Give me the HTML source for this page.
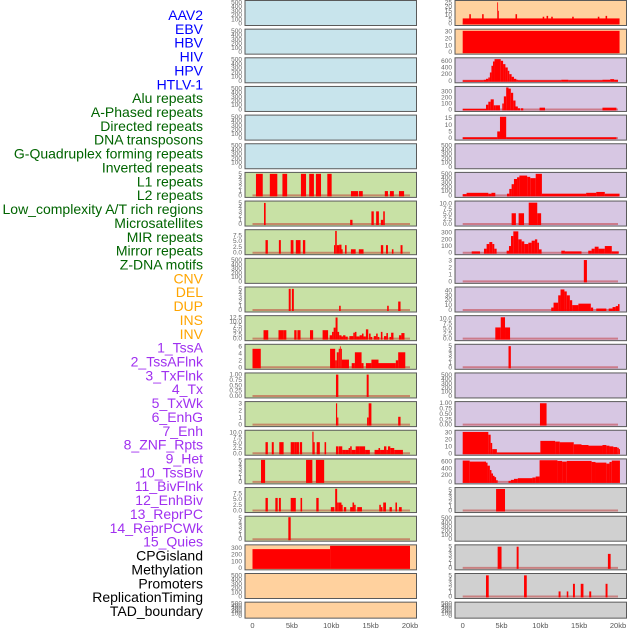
<!DOCTYPE html>
<html><head><meta charset="utf-8"><style>
html,body{margin:0;padding:0;background:#fff;width:630px;height:630px;overflow:hidden}
svg{display:block}
</style></head><body>
<svg id="chart" width="630" height="630" xmlns="http://www.w3.org/2000/svg" font-family="Liberation Sans, sans-serif"></svg>
<script>
const trackLabels=["AAV2","EBV","HBV","HIV","HPV","HTLV-1","Alu repeats","A-Phased repeats","Directed repeats","DNA transposons","G-Quadruplex forming repeats","Inverted repeats","L1 repeats","L2 repeats","Low_complexity A/T rich regions","Microsatellites","MIR repeats","Mirror repeats","Z-DNA motifs","CNV","DEL","DUP","INS","INV","1_TssA","2_TssAFlnk","3_TxFlnk","4_Tx","5_TxWk","6_EnhG","7_Enh","8_ZNF_Rpts","9_Het","10_TssBiv","11_BivFlnk","12_EnhBiv","13_ReprPC","14_ReprPCWk","15_Quies","CPGisland","Methylation","Promoters","ReplicationTiming","TAD_boundary"];
const labelColors=[].concat(Array(6).fill("#0000ff"),Array(13).fill("#006400"),Array(5).fill("#ffa500"),Array(15).fill("#a030f0"),Array(5).fill("#000000"));
const xTickValues=[0,5,10,15,20];
const xTickLabels=["0","5kb","10kb","15kb","20kb"];
const T500=[0,100,200,300,400,500];
const T5=[0,1,2,3,4,5];
// segments: [startKb, endKb, value]
const L6=[[0.44,1.3,5],[2.2,3.15,5],[3.8,4.4,5],[6.15,6.8,5],[7.2,7.8,5],[8.05,8.7,5],[9.5,10.05,5],[12.5,13.4,1],[13.5,14.0,1],[16.8,17.2,1],[17.45,17.95,1],[18.6,19.25,1]];
const L7=[[1.46,1.67,5],[12.4,12.7,1],[15.1,15.4,3],[15.7,16.05,3],[16.3,16.6,1],[16.6,16.8,3]];
const L8=[[1.65,1.95,5.5],[3.35,3.6,5.5],[4.85,5.2,5.5],[5.5,6.1,5.5],[6.4,6.7,5.5],[10.35,10.5,3.3],[10.5,10.7,9.5],[10.7,11.0,3.3],[11.0,11.3,3.5],[11.3,11.45,1.5],[11.75,11.95,3.3],[12.5,13.1,1.5],[13.5,14.1,1.5],[16.3,16.6,3.3],[16.95,17.2,3.3],[17.7,17.9,1.5],[18.8,19.05,3.3]];
const L10=[[4.6,4.85,5],[5.0,5.25,5],[11.0,11.2,1],[17.1,17.3,1],[18.5,18.8,2]];
const L11=[[1.4,2.0,5],[3.3,3.9,5],[3.9,4.3,5],[5.3,5.6,5],[5.7,6.1,5],[7.3,7.7,5],[8.9,9.6,5],[9.8,10.1,2],[10.1,10.3,4],[10.3,10.55,6.5],[10.55,10.8,12.5],[10.8,11.0,4],[11.0,11.3,2],[11.3,11.5,1.3],[11.5,11.8,2],[11.8,12.1,1.2],[12.3,12.8,1.5],[12.8,13.0,3.5],[13.0,13.2,4],[13.2,13.6,1.3],[13.6,13.9,2],[13.9,14.1,3],[14.1,14.4,1.3],[14.4,14.7,5.5],[14.8,15.0,3],[15.0,15.2,1],[15.4,15.7,1.5],[15.7,15.9,3],[15.9,16.1,1],[16.3,16.5,4],[16.7,17.0,1.5],[17.0,17.2,3.3],[17.4,17.6,1],[17.6,17.9,3.5],[18.6,18.9,2],[18.9,19.3,3.3]];
const L12=[[0,1.05,5.3],[9.85,10.5,5.3],[10.5,10.7,2],[10.7,10.95,4.3],[10.95,11.1,5.3],[11.1,11.2,6],[11.2,11.35,5.3],[11.35,12.25,2.2],[12.6,13.0,1.2],[13.0,13.85,4.3],[13.85,14.1,1.2],[14.4,15.1,1.2],[15.1,16.0,2.2],[16.0,18.2,1.2],[18.2,18.5,2],[18.5,19.4,4.3]];
const L13=[[10.6,10.9,1],[14.5,14.75,1]];
const L14=[[10.6,10.75,3],[10.75,10.9,1],[14.55,14.75,1],[14.75,15.1,3],[18.5,18.8,1.1]];
const L15=[[1.65,1.95,5.3],[2.45,2.7,5.3],[3.4,3.95,5.3],[4.85,5.3,5.3],[5.3,5.6,5.3],[5.6,5.9,5.3],[6.0,6.3,5.3],[7.6,7.75,10.3],[7.75,7.9,5.3],[8.15,8.55,5.3],[9.15,9.35,5.3],[10.6,10.9,3.3],[10.95,11.4,3.3],[11.4,11.8,1.6],[11.8,12.2,1.6],[12.2,12.4,2.5],[12.4,12.6,3.3],[12.6,13.1,1.6],[13.1,13.6,3.3],[13.6,14.3,3.3],[14.3,14.9,1.6],[15.5,16.0,1.6],[16.0,16.2,2.5],[16.2,16.7,1.6],[16.7,17.0,3.3],[17.0,17.2,1.6],[17.2,17.5,3.3],[17.5,18.0,2.5],[18.0,19.1,1.6]];
const L16=[[1.08,1.6,5.3],[6.8,7.6,5.3],[8.05,9.1,5.3]];
const L17=[[1.65,1.95,5.5],[2.9,3.2,5.5],[3.35,3.6,5.5],[4.85,5.5,5.5],[6.1,6.3,5.5],[8.1,8.4,5.5],[9.95,10.4,1.5],[10.5,10.75,9.5],[10.75,10.95,3.5],[10.95,11.3,3.5],[11.3,11.45,2.5],[11.6,11.9,1.5],[12.4,12.7,1.5],[12.7,12.9,3.5],[12.9,13.1,2.5],[13.3,13.9,1.5],[16.1,16.3,2.5],[16.3,16.5,1.5],[16.6,16.95,3.5],[17.4,17.7,1.5],[18.15,18.35,3.5],[18.6,18.95,1.5]];
const L18=[[4.55,4.85,5.2]];
const L19=[[0,9.85,285],[9.85,20,335]];
const R0=[[0,20.2,6],[0.85,1.05,11],[2.5,2.7,11],[4.45,4.55,25],[4.55,4.65,15],[6.8,7.0,11],[10.3,10.5,8],[10.8,11.0,9],[11.4,11.6,8],[14.1,14.3,8],[17.4,17.6,8],[18.4,18.6,9]];
const R1=[[0,20.2,31]];
const R2=[[0,2.7,15],[2.7,3.0,30],[3.0,3.3,60],[3.3,3.5,100],[3.5,3.7,250],[3.7,3.9,450],[3.9,4.1,580],[4.1,4.9,650],[4.9,5.2,600],[5.2,5.5,500],[5.5,5.8,400],[5.8,6.0,300],[6.0,6.3,200],[6.3,6.6,120],[6.6,6.9,60],[6.9,7.1,30],[7.1,12.7,15],[12.7,13.6,30],[13.6,18.0,15],[18.0,19.0,30],[19.0,19.5,50],[19.5,20.0,30]];
const R3=[[0,3.0,10],[3.0,3.3,80],[3.3,3.6,130],[3.6,4.0,170],[4.0,4.2,70],[4.2,4.8,70],[5.1,5.3,100],[5.3,5.6,220],[5.6,5.9,370],[5.9,6.2,350],[6.2,6.5,280],[6.5,6.8,150],[6.8,7.1,50],[7.1,7.4,20],[7.5,7.8,20],[9.9,10.6,30],[18.0,19.8,30]];
const R4=[[0,4.45,0.6],[4.45,4.8,5],[4.8,5.6,16],[5.6,19.8,0.6]];
const R6=[[0,0.5,30],[0.5,3.3,60],[3.3,3.7,40],[3.7,4.2,60],[5.7,6.0,40],[6.0,6.3,150],[6.3,6.6,260],[6.6,7.0,380],[7.0,7.3,420],[7.3,8.3,460],[8.3,8.7,430],[8.7,9.4,400],[9.4,10.2,500],[10.2,15.9,40],[15.9,17.2,60],[17.2,18.3,80],[18.3,20.2,40]];
const R7=[[6.3,6.85,5.3],[7.2,7.9,5.3],[8.5,9.6,10.5],[9.6,10.1,5.3]];
const R8=[[1.16,2.23,20],[2.74,3.08,60],[3.08,3.43,130],[3.43,3.81,160],[3.81,4.07,130],[4.07,4.37,60],[5.66,5.96,30],[5.96,6.22,100],[6.22,6.52,250],[6.52,7.16,320],[7.16,7.59,200],[7.59,7.93,170],[7.93,8.45,130],[8.45,8.88,150],[8.88,9.3,180],[9.3,9.6,200],[9.6,9.82,150],[9.82,10.16,50],[12.7,13.16,30],[13.16,15.3,20],[16.17,16.6,30],[16.6,17.0,60],[17.0,17.5,90],[17.5,18.3,60],[18.3,19.2,100],[19.2,20.1,20]];
const R9=[[15.6,16.0,3.1]];
const R10=[[11.4,11.7,5],[11.7,12.3,15],[12.3,12.6,30],[12.6,13.1,42],[13.1,13.4,38],[13.4,13.8,30],[13.8,14.1,20],[14.1,14.9,10],[14.9,16.5,13],[16.5,16.8,5],[17.2,18.5,3],[18.8,19.3,3],[19.3,19.7,6],[19.7,20.0,8],[20.0,20.2,12]];
const R11=[[4.2,4.9,5.5],[4.9,5.45,10.5],[5.45,6.1,5.5]];
const R12=[[5.9,6.2,5]];
const R14=[[9.95,10.8,1]];
const R15=[[0,3.3,31],[3.3,3.6,27],[3.6,3.8,15],[3.8,4.4,6],[4.4,10.0,1],[10.0,11.9,18],[11.9,12.5,17],[12.5,14.3,16],[14.3,15.3,13],[15.3,16.2,12],[16.2,18.0,11],[18.0,18.5,12],[18.5,18.9,11],[18.9,19.4,10],[19.4,19.9,9],[19.9,20.1,8],[20.1,20.25,6]];
const R16=[[0,0.9,630],[0.9,3.0,600],[3.0,3.2,570],[3.2,3.5,480],[3.5,3.7,350],[3.7,3.9,250],[3.9,4.1,180],[4.1,4.3,140],[4.3,4.5,50],[5.9,6.2,30],[6.2,6.6,60],[6.6,7.1,90],[7.1,8.98,110],[8.98,9.4,130],[9.4,9.9,160],[9.9,12.2,640],[12.2,12.8,620],[12.8,13.4,600],[13.4,16.6,620],[16.6,17.1,590],[17.1,18.5,570],[18.5,18.9,540],[18.9,19.2,590],[19.2,20.25,630]];
const R17=[[4.3,5.45,5.2]];
const R19=[[4.5,5.0,5],[6.95,7.2,5],[18.7,19.05,3.3]];
const R20=[[3.0,3.35,5],[7.9,8.25,5],[12.35,12.6,1.2],[13.4,13.6,1.2],[14.2,14.45,3],[15.2,15.55,3],[16.3,16.55,1.2],[18.4,18.65,3]];

const BG={b:"#c8e4ec",o:"#ffd19e",p:"#d7c7e3",g:"#c8e1a5",k:"#d0d0d0"};
// [segs, ymax, ticks, bg] for left and right
const leftPanels=[
 [null,520,T500,"b"],[null,520,T500,"b"],[null,520,T500,"b"],[null,520,T500,"b"],[null,520,T500,"b"],[null,520,T500,"b"],
 [L6,5.1,T5,"g"],[L7,5.2,T5,"g"],[L8,9.6,[0,2.5,5,7.5],"g"],[null,520,T500,"g"],[L10,5.2,T5,"g"],
 [L11,13,[0,2.5,5,7.5,10,12.5],"g"],[L12,6.3,[0,2,4,6],"g"],[L13,1.03,[0,0.25,0.5,0.75,1],"g"],[L14,3.1,[0,1,2,3],"g"],
 [L15,10.5,[0,2.5,5,7.5,10],"g"],[L16,5.2,T5,"g"],[L17,9.6,[0,2.5,5,7.5],"g"],[L18,5.2,T5,"g"],
 [L19,335,[0,100,200,300],"o"],[null,520,T500,"o"],[null,520,T500,"o"]];
const rightPanels=[
 [R0,26,[0,5,10,15,20,25],"o"],[R1,32,[0,10,20,30],"o"],[R2,660,[0,200,400,600],"p"],[R3,370,[0,100,200,300],"p"],
 [R4,16.5,[0,5,10,15],"p"],[null,520,T500,"p"],[R6,510,T500,"p"],[R7,10.8,[0,2.5,5,7.5,10],"p"],
 [R8,330,[0,100,200,300],"p"],[R9,3.2,[0,1,2,3],"p"],[R10,45,[0,10,20,30,40],"p"],[R11,10.8,[0,2.5,5,7.5,10],"p"],
 [R12,5.2,T5,"p"],[null,520,T500,"p"],[R14,1.03,[0,0.25,0.5,0.75,1],"p"],[R15,32,[0,10,20,30],"p"],
 [R16,650,[0,200,400,600],"p"],[R17,5.3,T5,"k"],[null,520,T500,"k"],[R19,5.2,T5,"k"],[R20,5.2,T5,"k"],[null,520,T500,"k"]];

const NS="http://www.w3.org/2000/svg";
const svg=document.getElementById("chart");
function mk(tag,attrs,parent){const e=document.createElementNS(NS,tag);for(const k in attrs)e.setAttribute(k,attrs[k]);(parent||svg).appendChild(e);return e;}

// labels
trackLabels.forEach((t,i)=>{
 const e=mk("text",{x:203,y:15+i*13.86+5,"text-anchor":"end","font-size":"14",fill:labelColors[i]});
 
 
 e.textContent=t;
});
function fmt(v,ticks){let d=0;ticks.forEach(t=>{const s=String(t);if(s.includes("."))d=Math.max(d,s.split(".")[1].length);});if(d===1&&ticks.some(t=>t%1===0.25||t%1===0.75))d=2;if(ticks.includes(2.5))d=1;if(ticks.includes(0.25))d=2;return v.toFixed(d);}
function drawPanel(p,row,side){
 const [segs,ymax,ticks,bg]=p;
 const top=0.5+row*28.65, h=row===21?16:25;
 const x0=side===0?245:455, w=171.5;
 const k0=side===0?252.5:462.7, k20=side===0?410:618;
 const xs=kb=>k0+(k20-k0)*kb/20;
 const ybase=top+h-2, yspan=h-3;
 const ys=v=>ybase-yspan*Math.min(v,ymax)/ymax;
 const g=mk("g",{});
 
 
 const r=mk("rect",{x:x0,y:top,width:w,height:h,fill:BG[bg],stroke:"#5a5a5a","stroke-width":1},g);
 
 
 if(segs){
  const bl=mk("line",{x1:xs(0),x2:xs(20),y1:ybase,y2:ybase,stroke:"rgba(190,30,30,0.45)","stroke-width":2},g);
  
  
  segs.forEach(s=>{
   const b=mk("rect",{x:xs(s[0]),y:ys(s[2]),width:Math.max(0.8,xs(s[1])-xs(s[0])),height:ybase-ys(s[2])+1,fill:"#ff0000"},g);
   
   
  });
 }
 ticks.forEach(t=>{
  const e=mk("text",{x:x0-3,y:ys(t)+2,"text-anchor":"end","font-size":"6.5",fill:"#666"},g);
  
  
  e.textContent=fmt(t,ticks);
 });
 if(row===21){
  xTickValues.forEach((v,i)=>{
   const e=mk("text",{x:xs(v),y:628,"text-anchor":"middle","font-size":"7.5",fill:"#555"});
   
   
   e.textContent=xTickLabels[i];
  });
 }
}
leftPanels.forEach((p,i)=>drawPanel(p,i,0));
rightPanels.forEach((p,i)=>drawPanel(p,i,1));
</script>
</body></html>
